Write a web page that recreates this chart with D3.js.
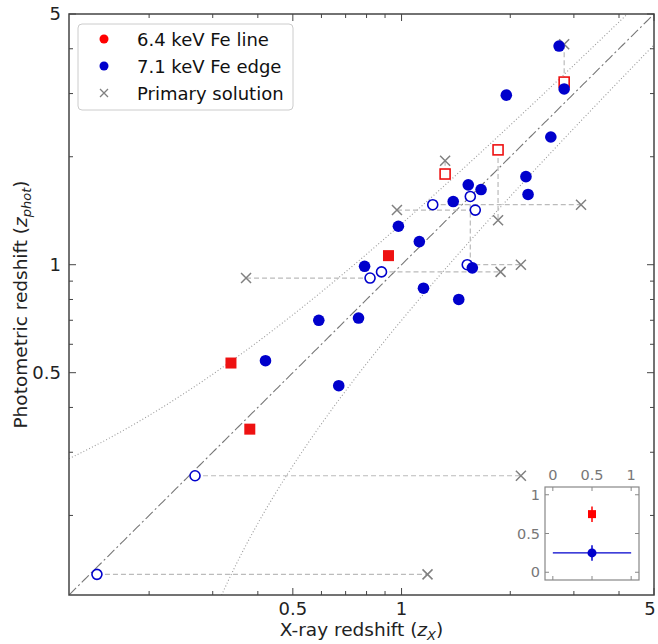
<!DOCTYPE html>
<html><head><meta charset="utf-8">
<script src="https://cdn.jsdelivr.net/npm/d3@7"></script>
<style>body{margin:0;background:#fff}svg{display:block}text{font-family:"DejaVu Sans",sans-serif}</style>
</head><body>
<svg id="c" width="658" height="644"></svg>
<script>
// ---- data (z_X, z_phot) ----
const edgeX   = [2.73,2.82,1.95,2.59,2.21,2.24,1.53,1.66,1.39,0.98,1.12,0.79,1.57,1.15,1.44,0.59,0.76,0.42,0.67];
const edgeY   = [4.07,3.09,2.97,2.27,1.76,1.57,1.67,1.62,1.50,1.28,1.16,0.99,0.98,0.86,0.80,0.70,0.71,0.54,0.46];
const lineX   = [0.92,0.337,0.38];
const lineY   = [1.06,0.532,0.348];
const lineAltX = [2.82,1.85,1.32];
const lineAltY = [3.23,2.09,1.79];
const edgeAltX = [1.55,1.22,1.60,1.52,0.88,0.818,0.268,0.1434];
const edgeAltY = [1.55,1.47,1.42,1.00,0.955,0.918,0.258,0.137];
const primX = [2.82,1.32,0.971,3.14,1.85,2.14,1.88,0.371,2.14,1.18];
const primY = [4.12,1.95,1.42,1.47,1.33,1.00,0.955,0.918,0.258,0.137];
// dashed links between alternative and primary solutions
const linkX1 = [2.82,1.32,1.85,1.22,0.971,1.55,1.52,0.88,0.371,0.268,0.1434];
const linkY1 = [4.12,1.95,2.09,1.47,1.42,1.55,1.00,0.955,0.918,0.258,0.137];
const linkX2 = [2.82,1.32,1.85,3.14,1.60,1.55,2.14,1.88,0.818,2.14,1.18];
const linkY2 = [3.23,1.79,1.33,1.47,1.42,1.00,1.00,0.955,0.918,0.258,0.137];
const domain = [0.12, 5];
const majorTicks = [0.5, 1, 5];
const minorTicks = [0.2,0.3,0.4,0.6,0.7,0.8,0.9,2,3,4];
const tickLabels = ["0.5","1","5"];
const legendLabels = ["6.4 keV Fe line","7.1 keV Fe edge","Primary solution"];
const scatterFrac = 0.15;
// inset (symbol key)
const insetTicks = [0, 0.5, 1];
const insetTickLabels = ["0","0.5","1"];
const insetRed = {x:0.5, y:0.75, ey:0.1};
const insetBlue = {x:0.5, y:0.25, ex:0.5, ey:0.1};

const BLUE = "#0000cc", RED = "#ee1111", GREY = "#808080";
const svg = d3.select("#c");
const L = 69, R = 654, T = 14, B = 595;
const x = d3.scaleLog().domain(domain).range([L, R]);
const y = d3.scaleLog().domain(domain).range([B, T]);

// reference curves
const zs = d3.range(0, 301).map(i => domain[0] * Math.pow(domain[1]/domain[0], i/300));
svg.append("clipPath").attr("id","pc").append("rect").attr("x",L).attr("y",T).attr("width",R-L).attr("height",B-T);
const g = svg.append("g").attr("clip-path","url(#pc)");
const line = d3.line().x(d => x(d[0])).y(d => y(d[1]));
g.append("path").attr("d", line(zs.map(z => [z, z]))).attr("fill","none").attr("stroke","#777").attr("stroke-width",1.1).attr("stroke-dasharray","10,3,2,3");
g.append("path").attr("d", line(zs.map(z => [z, z + scatterFrac*(1+z)]))).attr("fill","none").attr("stroke","#999").attr("stroke-width",1.1).attr("stroke-dasharray","1,2.2");
g.append("path").attr("d", line(zs.map(z => [z, z - scatterFrac*(1+z)]).filter(d => d[1] > 0.05))).attr("fill","none").attr("stroke","#999").attr("stroke-width",1.1).attr("stroke-dasharray","1,2.2");

// links
linkX1.forEach((v,i) => {
  g.append("line").attr("x1",x(v)).attr("y1",y(linkY1[i])).attr("x2",x(linkX2[i])).attr("y2",y(linkY2[i]))
   .attr("stroke","#bbb").attr("stroke-width",1.2).attr("stroke-dasharray","5,3");
});
// primary crosses
const cr = 5;
primX.forEach((v,i) => {
  const cx = x(v), cy = y(primY[i]);
  g.append("path").attr("d",`M${cx-cr},${cy-cr}L${cx+cr},${cy+cr}M${cx-cr},${cy+cr}L${cx+cr},${cy-cr}`).attr("stroke",GREY).attr("stroke-width",1.5);
});
// alt symbols
lineAltX.forEach((v,i) => g.append("rect").attr("x",x(v)-5).attr("y",y(lineAltY[i])-5).attr("width",10).attr("height",10).attr("fill","white").attr("stroke",RED).attr("stroke-width",1.6));
edgeAltX.forEach((v,i) => g.append("circle").attr("cx",x(v)).attr("cy",y(edgeAltY[i])).attr("r",5).attr("fill","white").attr("stroke",BLUE).attr("stroke-width",1.6));
// main symbols
lineX.forEach((v,i) => g.append("rect").attr("x",x(v)-5.5).attr("y",y(lineY[i])-5.5).attr("width",11).attr("height",11).attr("fill",RED));
edgeX.forEach((v,i) => g.append("circle").attr("cx",x(v)).attr("cy",y(edgeY[i])).attr("r",5.8).attr("fill",BLUE));

// axes frame and ticks
svg.append("rect").attr("x",L).attr("y",T).attr("width",R-L).attr("height",B-T).attr("fill","none").attr("stroke","#444").attr("stroke-width",1.5);
const tk = svg.append("g").attr("stroke","#444").attr("stroke-width",1);
majorTicks.forEach(t => {
  tk.append("line").attr("x1",x(t)).attr("x2",x(t)).attr("y1",B).attr("y2",B-7);
  tk.append("line").attr("x1",x(t)).attr("x2",x(t)).attr("y1",T).attr("y2",T+7);
  tk.append("line").attr("y1",y(t)).attr("y2",y(t)).attr("x1",L).attr("x2",L+7);
  tk.append("line").attr("y1",y(t)).attr("y2",y(t)).attr("x1",R).attr("x2",R-7);
});
minorTicks.forEach(t => {
  tk.append("line").attr("x1",x(t)).attr("x2",x(t)).attr("y1",B).attr("y2",B-4);
  tk.append("line").attr("x1",x(t)).attr("x2",x(t)).attr("y1",T).attr("y2",T+4);
  tk.append("line").attr("y1",y(t)).attr("y2",y(t)).attr("x1",L).attr("x2",L+4);
  tk.append("line").attr("y1",y(t)).attr("y2",y(t)).attr("x1",R).attr("x2",R-4);
});
majorTicks.forEach((t,i) => {
  svg.append("text").attr("x",Math.min(x(t),650)).attr("y",B+20).attr("text-anchor","middle").attr("font-size",18).attr("fill","#222").text(tickLabels[i]);
  svg.append("text").attr("x",L-8).attr("y",y(t)+6).attr("text-anchor","end").attr("font-size",18).attr("fill","#222").text(tickLabels[i]);
});
// axis labels
const xl = svg.append("text").attr("x",(L+R)/2).attr("y",B+41).attr("text-anchor","middle").attr("font-size",18.5).attr("fill","#222");
xl.append("tspan").text("X-ray redshift (");
xl.append("tspan").attr("font-style","italic").text("z");
xl.append("tspan").attr("font-style","italic").attr("font-size",13).attr("dy",3.5).text("X");
xl.append("tspan").attr("dy",-3.5).text(")");
const yl = svg.append("text").attr("transform",`translate(27,${(T+B)/2}) rotate(-90)`).attr("text-anchor","middle").attr("font-size",18.5).attr("fill","#222");
yl.append("tspan").text("Photometric redshift (");
yl.append("tspan").attr("font-style","italic").text("z");
yl.append("tspan").attr("font-style","italic").attr("font-size",13).attr("dy",3.5).text("phot");
yl.append("tspan").attr("dy",-3.5).text(")");

// legend
const lg = svg.append("g");
lg.append("rect").attr("x",78).attr("y",24).attr("width",215).attr("height",86).attr("rx",4).attr("fill","white").attr("stroke","#ccc").attr("stroke-width",1);
const rows = [39, 66, 93];
lg.append("circle").attr("cx",104).attr("cy",rows[0]).attr("r",4.5).attr("fill","#ff0000");
lg.append("circle").attr("cx",104).attr("cy",rows[1]).attr("r",4.5).attr("fill",BLUE);
lg.append("path").attr("d",`M100,${rows[2]-4}L108,${rows[2]+4}M100,${rows[2]+4}L108,${rows[2]-4}`).attr("stroke",GREY).attr("stroke-width",1.3);
legendLabels.forEach((s,i) => lg.append("text").attr("x",137).attr("y",rows[i]+6.5).attr("font-size",18).attr("fill","#111").text(s));

// inset
const iL = 545, iR = 639, iT = 487, iB = 580;
const ix = d3.scaleLinear().domain([-0.1,1.1]).range([iL,iR]);
const iy = d3.scaleLinear().domain([-0.1,1.1]).range([iB,iT]);
const ins = svg.append("g");
ins.append("rect").attr("x",iL).attr("y",iT).attr("width",iR-iL).attr("height",iB-iT).attr("fill","white").attr("stroke","#888").attr("stroke-width",1.2);
insetTicks.forEach((t,i) => {
  ins.append("line").attr("x1",ix(t)).attr("x2",ix(t)).attr("y1",iT).attr("y2",iT+4).attr("stroke","#888");
  ins.append("line").attr("x1",ix(t)).attr("x2",ix(t)).attr("y1",iB).attr("y2",iB-4).attr("stroke","#888");
  ins.append("line").attr("y1",iy(t)).attr("y2",iy(t)).attr("x1",iL).attr("x2",iL+4).attr("stroke","#888");
  ins.append("line").attr("y1",iy(t)).attr("y2",iy(t)).attr("x1",iR).attr("x2",iR-4).attr("stroke","#888");
  ins.append("text").attr("x",ix(t)).attr("y",iT-7).attr("text-anchor","middle").attr("font-size",14.5).attr("fill","#777").text(insetTickLabels[i]);
  ins.append("text").attr("x",iL-5).attr("y",iy(t)+5).attr("text-anchor","end").attr("font-size",14.5).attr("fill","#777").text(insetTickLabels[i]);
});
ins.append("line").attr("x1",ix(insetRed.x)).attr("x2",ix(insetRed.x)).attr("y1",iy(insetRed.y-insetRed.ey)).attr("y2",iy(insetRed.y+insetRed.ey)).attr("stroke","#ff0000").attr("stroke-width",1.5);
ins.append("rect").attr("x",ix(insetRed.x)-4).attr("y",iy(insetRed.y)-4).attr("width",8).attr("height",8).attr("fill","#ff0000");
ins.append("line").attr("x1",ix(insetBlue.x-insetBlue.ex)).attr("x2",ix(insetBlue.x+insetBlue.ex)).attr("y1",iy(insetBlue.y)).attr("y2",iy(insetBlue.y)).attr("stroke",BLUE).attr("stroke-width",1.3);
ins.append("line").attr("x1",ix(insetBlue.x)).attr("x2",ix(insetBlue.x)).attr("y1",iy(insetBlue.y-insetBlue.ey)).attr("y2",iy(insetBlue.y+insetBlue.ey)).attr("stroke",BLUE).attr("stroke-width",1.5);
ins.append("circle").attr("cx",ix(insetBlue.x)).attr("cy",iy(insetBlue.y)).attr("r",4.5).attr("fill",BLUE);
</script>
</body></html>
